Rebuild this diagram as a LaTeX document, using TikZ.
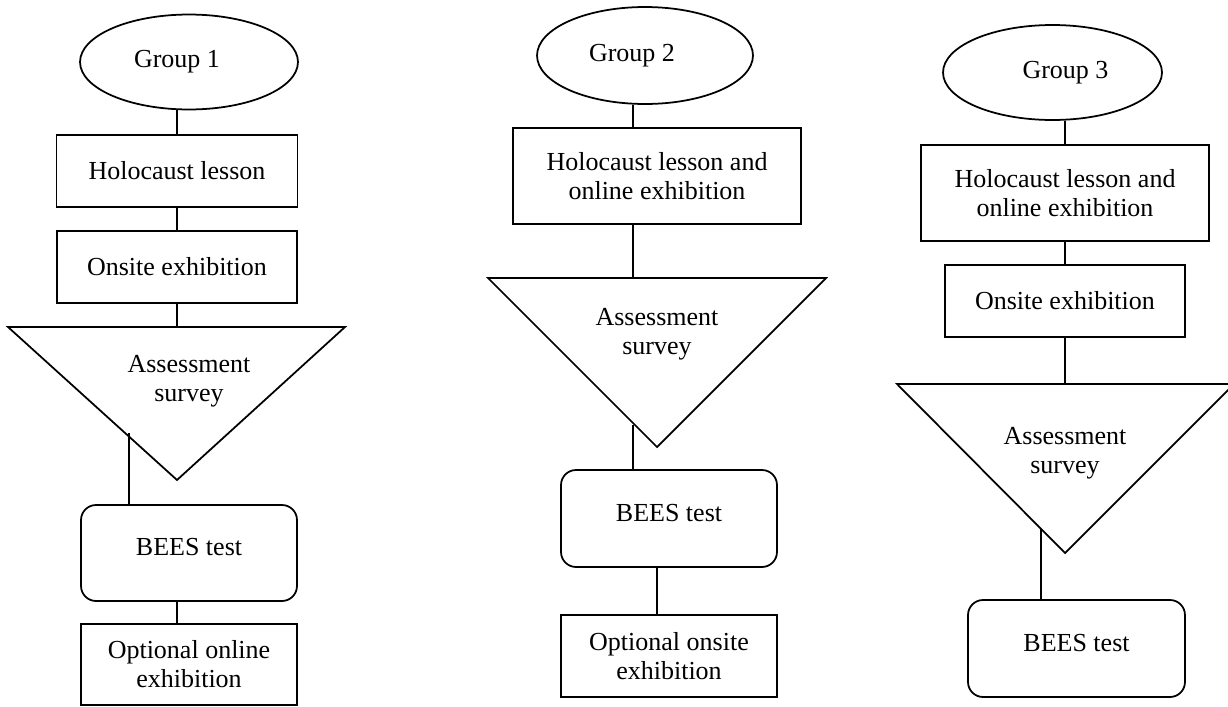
\documentclass[tikz,border=0pt]{standalone}
\usepackage{fontspec}
\setmainfont{Liberation Serif}
\usetikzlibrary{shapes.geometric}

\begin{document}
\begin{tikzpicture}[x=0.02cm, y=-0.02cm, line width=1pt,
    font=\fontsize{14.8}{16.5}\selectfont,
    grp/.style={draw, ellipse, inner sep=0pt},
    box/.style={draw, rectangle, inner sep=0pt, align=center},
    testbox/.style={draw, rectangle, rounded corners=0.3cm, inner sep=0pt, text depth=6.8pt},
    survey/.style={align=center, inner sep=0pt}]
    \useasboundingbox (0,0) rectangle (1228,707);

    % group 1
    \node[grp, minimum width=4.36cm, minimum height=1.9cm] (grpa) at (189,62) {\hspace*{-0.48cm}Group 1};
    \node[box, minimum width=4.82cm, minimum height=1.44cm] (holoa) at (177,171) {Holocaust lesson};
    \node[box, minimum width=4.8cm, minimum height=1.44cm] (onsa) at (177,267) {Onsite exhibition};
    \coordinate (tria-l) at (8,327);
    \coordinate (tria-r) at (345,327);
    \coordinate (tria-b) at (177,480);
    \coordinate (tria-in) at (129,433);
    \draw (tria-l) -- (tria-r) -- (tria-b) -- cycle;
    \node[survey] (surva) at (189,381) {Assessment\\survey};
    \node[testbox, minimum width=4.32cm, minimum height=1.92cm] (beesa) at (189,553) {BEES test};
    \node[box, minimum width=4.32cm, minimum height=1.62cm] (opta) at (189,664.5) {Optional online\\exhibition};
    \draw (holoa.north) -- (holoa.north |- grpa.south);
    \draw (holoa.south) -- (onsa.north);
    \draw (onsa.south) -- (onsa.south |- tria-l);
    \draw (tria-in) -- (tria-in |- beesa.north);
    \draw ([xshift=-0.24cm]beesa.south) -- ([xshift=-0.24cm]opta.north);

    % group 2
    \node[grp, minimum width=4.32cm, minimum height=1.94cm] (grpb) at (645,55.5) {\hspace*{-0.52cm}Group 2};
    \node[box, minimum width=5.76cm, minimum height=1.92cm] (holob) at (657,176) {Holocaust lesson and\\online exhibition};
    \coordinate (trib-l) at (488,278);
    \coordinate (trib-r) at (826,278);
    \coordinate (trib-b) at (657,447);
    \coordinate (trib-in) at (633,425);
    \draw (trib-l) -- (trib-r) -- (trib-b) -- cycle;
    \node[survey] (survb) at (657,334) {Assessment\\survey};
    \node[testbox, minimum width=4.32cm, minimum height=1.94cm] (beesb) at (669,518.5) {BEES test};
    \node[box, minimum width=4.32cm, minimum height=1.64cm] (optb) at (669,656) {Optional onsite\\exhibition};
    \draw ([xshift=-0.48cm]holob.north) -- ([xshift=-0.48cm]holob.north |- grpb.south);
    \draw ([xshift=-0.48cm]holob.south) -- ([xshift=-0.48cm]holob.south |- trib-l);
    \draw (trib-in) -- (trib-in |- beesb.north);
    \draw ([xshift=-0.24cm]beesb.south) -- ([xshift=-0.24cm]optb.north);

    % group 3
    \node[grp, minimum width=4.38cm, minimum height=1.9cm] (grpc) at (1052.5,72.5) {\hspace*{0.52cm}Group 3};
    \node[box, minimum width=5.76cm, minimum height=1.92cm] (holoc) at (1065,193) {Holocaust lesson and\\online exhibition};
    \node[box, minimum width=4.8cm, minimum height=1.44cm] (onsc) at (1065,301) {Onsite exhibition};
    \coordinate (tric-l) at (897,384);
    \coordinate (tric-r) at (1234,384);
    \coordinate (tric-b) at (1065,553);
    \coordinate (tric-in) at (1041,529);
    \draw (tric-l) -- (tric-r) -- (tric-b) -- cycle;
    \node[survey] (survc) at (1065,453) {Assessment\\survey};
    \node[testbox, minimum width=4.34cm, minimum height=1.94cm] (beesc) at (1076.5,648.5) {BEES test};
    \draw (holoc.north) -- (holoc.north |- grpc.south);
    \draw (holoc.south) -- (onsc.north);
    \draw (onsc.south) -- (onsc.south |- tric-l);
    \draw (tric-in) -- (tric-in |- beesc.north);
\end{tikzpicture}
\end{document}
